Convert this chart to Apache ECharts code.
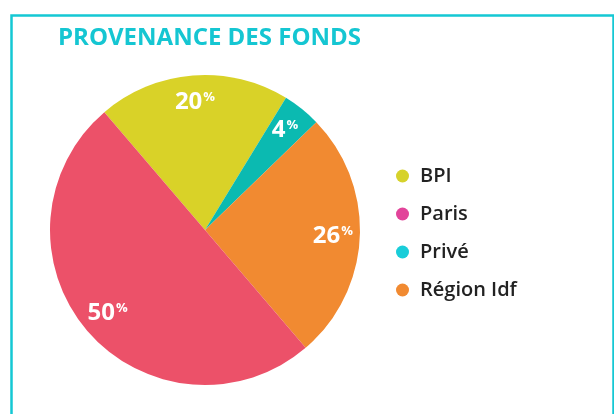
<!DOCTYPE html>
<html>
<head>
<meta charset="utf-8">
<script src="https://cdn.jsdelivr.net/npm/echarts@6/dist/echarts.min.js"></script>
<style>
  html, body { margin: 0; padding: 0; background: #fff; }
  #main { width: 614px; height: 414px; }
</style>
</head>
<body>
<div id="main"></div>
<script>
// clockwise order, starting at the left edge of the BPI slice
var sliceNames = ['BPI', 'Privé', 'Région Idf', 'Paris'];
var sliceValues = [20, 4, 26, 50];
var sliceColors = ['#d9d228', '#0bbab1', '#f18a31', '#ec5169'];
var legendNames = ['BPI', 'Paris', 'Privé', 'Région Idf'];
var legendColors = ['#d6d22b', '#e2449a', '#19cdd9', '#f18a31'];

var chart = echarts.init(document.getElementById('main'));

var pieData = sliceNames.map(function (n, i) {
    return { name: n, value: sliceValues[i], itemStyle: { color: sliceColors[i] } };
});
var ringData = sliceNames.map(function (n, i) {
    return { name: n, value: sliceValues[i], itemStyle: { color: 'rgba(0,0,0,0)' } };
});

var option = {
    animation: false,
    graphic: [{
        type: 'rect',
        left: 9, top: 13,
        shape: { width: 602, height: 430 },
        style: { fill: 'none', stroke: '#14c8d4', lineWidth: 2.5 },
        z: 0
    }],
    title: {
        text: 'PROVENANCE DES FONDS',
        left: 58, top: 26, padding: 0,
        textStyle: {
            fontFamily: 'Open Sans',
            fontWeight: 'bold',
            fontSize: 24,
            color: '#15c6d2'
        }
    },
    legend: {
        orient: 'vertical',
        left: 396, top: 166,
        icon: 'circle',
        itemWidth: 13, itemHeight: 13,
        itemGap: 18,
        padding: 0,
        selectedMode: false,
        textStyle: { fontFamily: 'Open Sans', fontWeight: 600, fontSize: 20, lineHeight: 19, color: '#222', padding: [0, 0, 0, 6] },
        data: legendNames.map(function (n, i) {
            return { name: n, itemStyle: { color: legendColors[i] } };
        })
    },
    series: [{
        type: 'pie',
        center: [205, 230],
        radius: [0, 155],
        startAngle: 130.5,
        clockwise: true,
        silent: true,
        label: { show: false },
        labelLine: { show: false },
        data: pieData
    }, {
        type: 'pie',
        center: [205, 230],
        radius: [96, 154],
        startAngle: 130.5,
        clockwise: true,
        silent: true,
        labelLine: { show: false },
        label: {
            show: true,
            position: 'inside',
            formatter: function (p) { return '{v|' + p.value + '}{p|%}'; },
            rich: {
                v: { fontFamily: 'Open Sans', fontWeight: 'bold', fontSize: 24, color: '#fff', verticalAlign: 'bottom' },
                p: { fontFamily: 'Open Sans', fontWeight: 'bold', fontSize: 13, color: '#fff', padding: [0, 0, 10, 1] }
            }
        },
        data: ringData
    }]
};
chart.setOption(option);
</script>
</body>
</html>
